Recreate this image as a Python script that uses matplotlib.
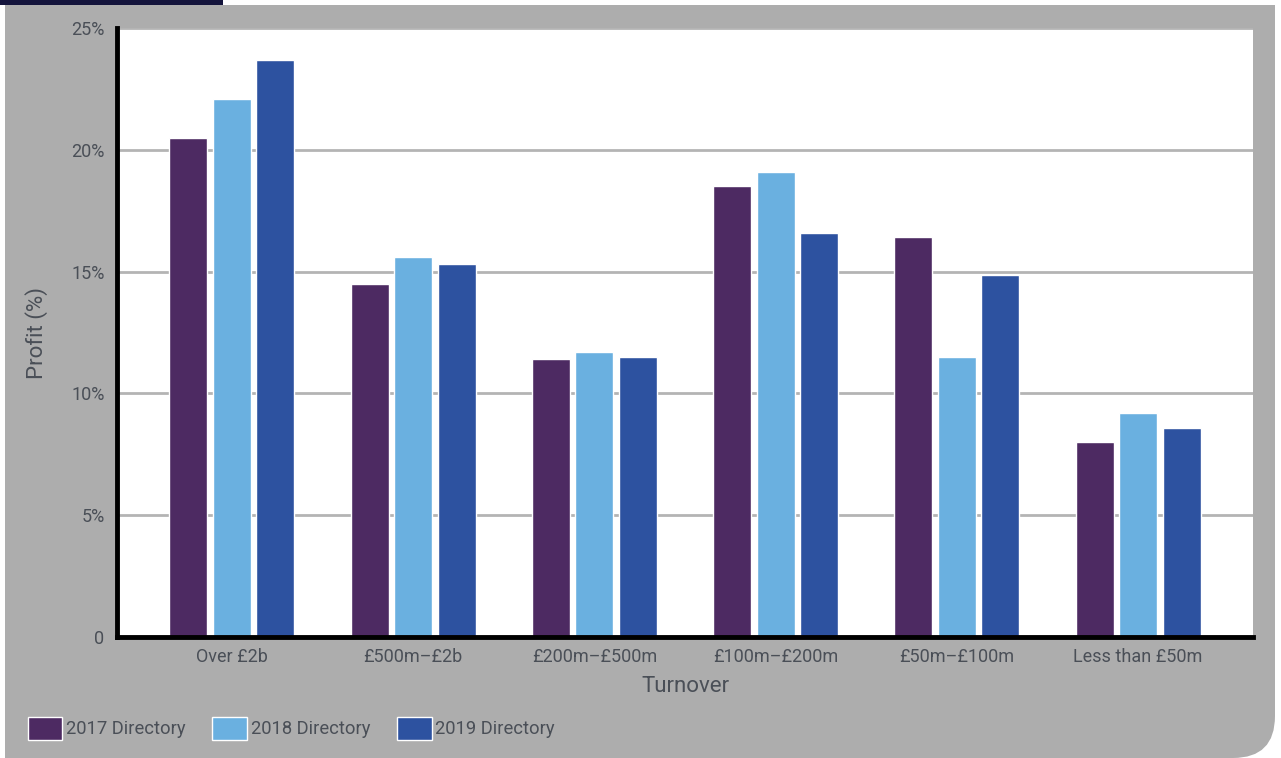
import numpy as np
import matplotlib.pyplot as plt
from matplotlib.patches import FancyBboxPatch, Rectangle
from matplotlib.transforms import IdentityTransform

# data
categories = ['Over £2b', '£500m–£2b', '£200m–£500m', '£100m–£200m', '£50m–£100m', 'Less than £50m']
series_names = ['2017 Directory', '2018 Directory', '2019 Directory']
profit_2017 = [20.5, 14.5, 11.4, 18.5, 16.4, 8.0]
profit_2018 = [22.1, 15.6, 11.7, 19.1, 11.5, 9.2]
profit_2019 = [23.7, 15.3, 11.5, 16.6, 14.85, 8.6]
y_ticks = [0, 5, 10, 15, 20, 25]
y_tick_labels = ['0', '5%', '10%', '15%', '20%', '25%']

colors = ['#4d2a62', '#6ab0e0', '#2d52a0']
grey_bg = '#adadad'
text_col = '#4a4f57'

plt.rcParams['font.family'] = ['Roboto', 'DejaVu Sans']

W, H = 1281, 758
fig = plt.figure(figsize=(W / 100, H / 100), dpi=100)
fig.patch.set_facecolor('white')

# grey panel with rounded bottom-right corner (pixel coordinates)
tr = IdentityTransform()
fig.patches.append(FancyBboxPatch((5, 0), 1270, 753, boxstyle='round,pad=0,rounding_size=42',
                                  transform=tr, facecolor=grey_bg, edgecolor='none', zorder=-10))
fig.patches.append(Rectangle((5, 0), 1220, 753, transform=tr, facecolor=grey_bg,
                             edgecolor='none', zorder=-10))
fig.patches.append(Rectangle((5, 50), 1270, 703, transform=tr, facecolor=grey_bg,
                             edgecolor='none', zorder=-10))
# dark tab at the top left
fig.patches.append(Rectangle((0, H - 5), 223, 5, transform=tr, facecolor='#14143c',
                             edgecolor='none', zorder=-9))

ax = fig.add_axes([117 / W, (H - 637) / H, (1253 - 117) / W, (637 - 28) / H])
ax.set_facecolor('white')

x = np.arange(len(categories))
offset = 0.24
width = 0.21
for i, (vals, name) in enumerate(zip([profit_2017, profit_2018, profit_2019], series_names)):
    ax.bar(x + (i - 1) * offset, vals, width, color=colors[i], label=name, zorder=3)

ax.set_xlim(-0.634, 5.634)
ax.set_ylim(0, 25)
ax.set_yticks(y_ticks)
ax.set_yticklabels(y_tick_labels)
ax.set_xticks(x)
ax.set_xticklabels(categories)
ax.tick_params(axis='both', length=0, labelsize=13, colors=text_col)
ax.tick_params(axis='y', pad=9)
ax.tick_params(axis='x', pad=8)
ax.grid(axis='y', color='#b4b4b4', linewidth=2, zorder=1)
ax.set_axisbelow(True)

for s in ['top', 'right']:
    ax.spines[s].set_visible(False)
for s in ['left', 'bottom']:
    ax.spines[s].set_linewidth(3.5)
    ax.spines[s].set_color('black')
    ax.spines[s].set_zorder(4)

ax.set_xlabel('Turnover', fontsize=16, color=text_col, labelpad=7)
ax.set_ylabel('Profit (%)', fontsize=16, color=text_col, labelpad=17)

handles, labels = ax.get_legend_handles_labels()
for h in handles:
    for p in h.patches:
        p.set_edgecolor('white')
        p.set_linewidth(1)
leg = fig.legend(handles, labels, loc='lower left', bbox_to_anchor=(11 / W, 2 / H), ncol=3,
                 frameon=False, fontsize=13.2, handlelength=1.9, handleheight=1.55,
                 handletextpad=0.2, columnspacing=1.45, labelcolor=text_col)

plt.savefig('out.png', dpi=100)
